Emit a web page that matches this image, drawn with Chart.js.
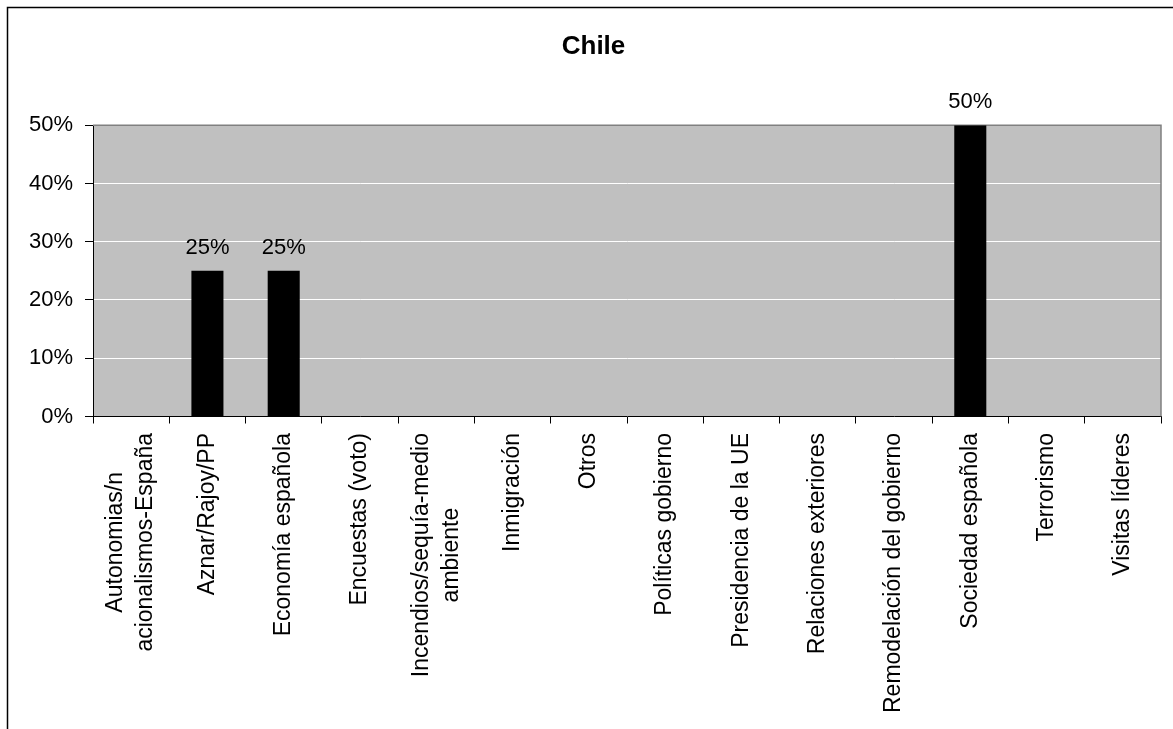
<!DOCTYPE html>
<html lang="es">
<head>
  <meta charset="UTF-8" />
  <title>Chile</title>
  <script src="https://cdn.jsdelivr.net/npm/chart.js"></script>
  <style>
    body { margin: 0; background: #fff; }
    #wrap { width: 1173px; height: 729px; }
  </style>
</head>
<body>
  <div id="wrap"><canvas id="chart"></canvas></div>
  <script>
    const categories = [
      ['Autonomias/n', 'acionalismos-España'],
      'Aznar/Rajoy/PP',
      'Economía española',
      'Encuestas (voto)',
      ['Incendios/sequía-medio', 'ambiente'],
      'Inmigración',
      'Otros',
      'Políticas gobierno',
      'Presidencia de la UE',
      'Relaciones exteriores',
      'Remodelación del gobierno',
      'Sociedad española',
      'Terrorismo',
      'Visitas líderes'
    ];
    const values = [0, 25, 25, 0, 0, 0, 0, 0, 0, 0, 0, 50, 0, 0];
    const yTicks = [0, 10, 20, 30, 40, 50];

    const FONT = '"Liberation Sans", Arial, sans-serif';
    Chart.defaults.font.family = FONT;
    Chart.defaults.color = '#000';

    // gray plot background + outer frame
    const frame = {
      id: 'frame',
      beforeDraw(chart) {
        const { ctx, chartArea: a } = chart;
        ctx.save();
        ctx.strokeStyle = '#000';
        ctx.lineWidth = 1.5;
        ctx.strokeRect(7.5, 7.5, 2000, 2000);
        ctx.fillStyle = '#c0c0c0';
        ctx.fillRect(a.left, a.top, a.right - a.left, a.bottom - a.top);
        ctx.restore();
      },
      beforeDatasetsDraw(chart) {
        const { ctx, chartArea: a } = chart;
        ctx.save();
        ctx.strokeStyle = '#808080';
        ctx.lineWidth = 1.5;
        ctx.beginPath();
        ctx.moveTo(a.left, a.top);
        ctx.lineTo(a.right, a.top);
        ctx.lineTo(a.right, a.bottom);
        ctx.stroke();
        ctx.restore();
      }
    };

    // value labels above bars
    const barLabels = {
      id: 'barLabels',
      afterDatasetsDraw(chart) {
        const { ctx } = chart;
        const meta = chart.getDatasetMeta(0);
        ctx.save();
        ctx.font = '22px ' + FONT;
        ctx.fillStyle = '#000';
        ctx.textAlign = 'center';
        ctx.textBaseline = 'alphabetic';
        meta.data.forEach((bar, i) => {
          if (!values[i]) return;
          ctx.fillText(values[i] + '%', bar.x, bar.y - 17);
        });
        ctx.restore();
      }
    };

    // vertical category labels, lines centred on each other like Excel does
    const catLabels = {
      id: 'catLabels',
      afterDraw(chart) {
        const { ctx } = chart;
        const xs = chart.scales.x;
        ctx.save();
        ctx.font = '23px ' + FONT;
        ctx.fillStyle = '#000';
        ctx.textAlign = 'center';
        ctx.textBaseline = 'middle';
        categories.forEach((c, i) => {
          const lines = Array.isArray(c) ? c : [c];
          const w = Math.max(...lines.map(l => ctx.measureText(l).width));
          ctx.save();
          ctx.translate(xs.getPixelForValue(i), xs.top + 16.5);
          ctx.rotate(-Math.PI / 2);
          lines.forEach((l, j) => {
            ctx.fillText(l, -w / 2, (j - (lines.length - 1) / 2) * 30);
          });
          ctx.restore();
        });
        ctx.restore();
      }
    };

    new Chart(document.getElementById('chart'), {
      type: 'bar',
      data: {
        labels: categories,
        datasets: [{
          data: values,
          backgroundColor: '#000',
          borderColor: '#000',
          borderWidth: 0,
          categoryPercentage: 1,
          barPercentage: 0.42
        }]
      },
      options: {
        responsive: true,
        maintainAspectRatio: false,
        animation: false,
        layout: { padding: { left: 26, right: 12, top: 0, bottom: 0 } },
        plugins: {
          legend: { display: false },
          tooltip: { enabled: false },
          title: {
            display: true,
            text: 'Chile',
            color: '#000',
            font: { size: 26, weight: 'bold', lineHeight: 1.2 },
            padding: { top: 31, bottom: 63 }
          }
        },
        scales: {
          x: {
            afterFit: s => { s.height = 312.5; },
            grid: {
              offset: true,
              drawOnChartArea: false,
              drawTicks: true,
              tickLength: 7,
              color: '#000'
            },
            border: { color: '#000', width: 1 },
            ticks: { display: false, autoSkip: false }
          },
          y: {
            min: 0,
            max: 50,
            afterFit: s => { s.width = 67; },
            afterBuildTicks: s => { s.ticks = yTicks.map(v => ({ value: v })); },
            grid: {
              color: ctx => ctx.tick && ctx.tick.value === 50 ? '#808080' : '#fff',
              tickColor: '#000',
              tickLength: 8,
              lineWidth: 1
            },
            border: { color: '#000', width: 1 },
            ticks: {
              padding: 12,
              font: { size: 22 },
              color: '#000',
              callback: v => v + '%'
            }
          }
        }
      },
      plugins: [frame, barLabels, catLabels]
    });
  </script>
</body>
</html>
